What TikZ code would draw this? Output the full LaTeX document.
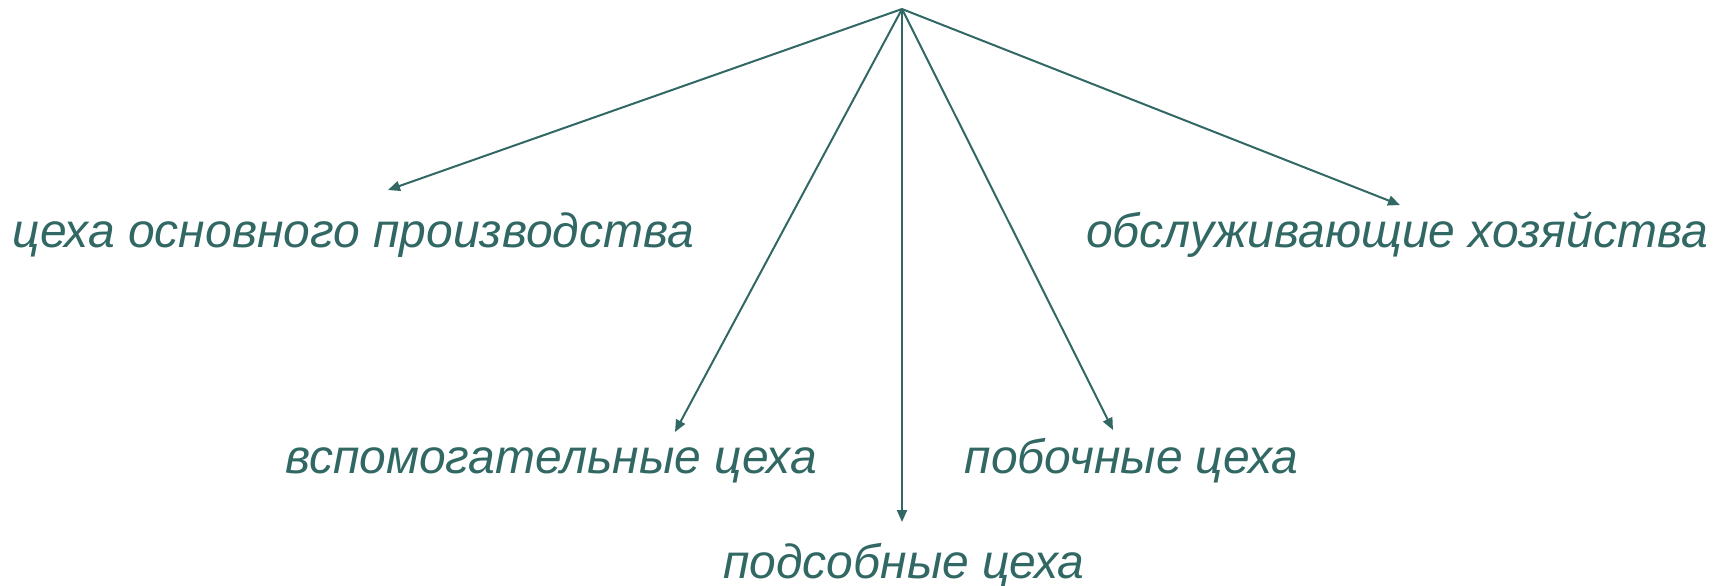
\documentclass[tikz,border=0pt]{standalone}
\usepackage{fontspec}
\setmainfont{Liberation Sans}
\usetikzlibrary{arrows.meta}
\definecolor{teal}{RGB}{49,104,100}
\begin{document}
\begin{tikzpicture}[x=0.5pt, y=-0.5pt]

        \tikzstyle{kind} = [inner sep=0pt, anchor=base, text=teal, font=\fontsize{24}{28}\selectfont\itshape]
        \tikzstyle{link} = [draw=teal, line width=1pt, -{Triangle[length=6pt, width=5pt]}]

        \useasboundingbox (0,0) rectangle (1721,585);

        \coordinate (top) at (902,9);
        \node [kind] (osn) at (353.5,247) {цеха основного производства};
        \node [kind] (obs) at (1397,247) {обслуживающие хозяйства};
        \node [kind] (vsp) at (551,473) {вспомогательные цеха};
        \node [kind] (pob) at (1131.5,473) {побочные цеха};
        \node [kind] (pod) at (904,578) {подсобные цеха};

        \draw [link] (top) -- ([shift={(34.5,-57)}]osn.base);
        \draw [link] (top) -- ([shift={(124,-41)}]vsp.base);
        \draw [link] (top) -- ([shift={(-2,-56)}]pod.base);
        \draw [link] (top) -- ([shift={(-18.5,-43)}]pob.base);
        \draw [link] (top) -- ([shift={(3,-42)}]obs.base);

    \end{tikzpicture}
\end{document}
